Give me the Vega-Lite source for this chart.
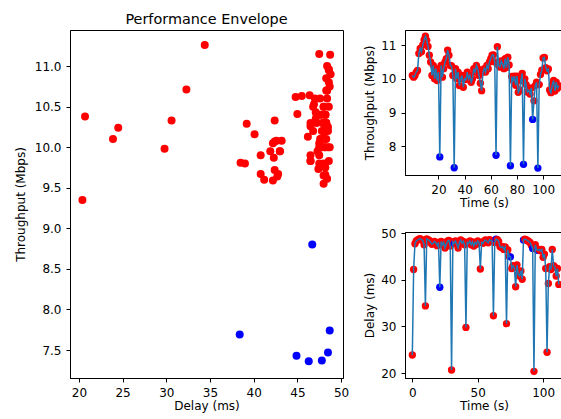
{
"$schema": "https://vega.github.io/schema/vega-lite/v6.json",
"padding": {"left": 13, "top": 11, "right": 0, "bottom": 5},
"data": {"values": [
{"t":0,"thr":10.10,"delay":23.9,"flag":"normal"},
{"t":1,"thr":10.05,"delay":42.2,"flag":"normal"},
{"t":2,"thr":10.10,"delay":47.7,"flag":"normal"},
{"t":3,"thr":10.20,"delay":48.3,"flag":"normal"},
{"t":4,"thr":10.25,"delay":48.5,"flag":"normal"},
{"t":5,"thr":10.75,"delay":48.7,"flag":"normal"},
{"t":6,"thr":10.90,"delay":48.8,"flag":"normal"},
{"t":7,"thr":10.80,"delay":48.6,"flag":"normal"},
{"t":8,"thr":11.00,"delay":48.4,"flag":"normal"},
{"t":9,"thr":11.15,"delay":47.5,"flag":"normal"},
{"t":10,"thr":11.26,"delay":34.4,"flag":"normal"},
{"t":11,"thr":11.14,"delay":48.75,"flag":"normal"},
{"t":12,"thr":10.96,"delay":48.6,"flag":"normal"},
{"t":13,"thr":10.70,"delay":48.4,"flag":"normal"},
{"t":14,"thr":10.50,"delay":48.0,"flag":"normal"},
{"t":15,"thr":10.10,"delay":47.6,"flag":"normal"},
{"t":16,"thr":10.40,"delay":47.8,"flag":"normal"},
{"t":17,"thr":10.00,"delay":48.2,"flag":"normal"},
{"t":18,"thr":10.30,"delay":47.9,"flag":"normal"},
{"t":19,"thr":9.95,"delay":47.3,"flag":"normal"},
{"t":20,"thr":10.20,"delay":48.0,"flag":"normal"},
{"t":21,"thr":7.69,"delay":38.4,"flag":"outlier"},
{"t":22,"thr":10.40,"delay":48.2,"flag":"normal"},
{"t":23,"thr":10.05,"delay":47.5,"flag":"normal"},
{"t":24,"thr":10.30,"delay":48.0,"flag":"normal"},
{"t":25,"thr":10.50,"delay":46.8,"flag":"normal"},
{"t":26,"thr":10.60,"delay":47.6,"flag":"normal"},
{"t":27,"thr":10.85,"delay":48.3,"flag":"normal"},
{"t":28,"thr":10.70,"delay":48.4,"flag":"normal"},
{"t":29,"thr":10.40,"delay":47.2,"flag":"normal"},
{"t":30,"thr":10.38,"delay":20.7,"flag":"normal"},
{"t":31,"thr":10.10,"delay":48.1,"flag":"normal"},
{"t":32,"thr":7.37,"delay":47.8,"flag":"outlier"},
{"t":33,"thr":10.30,"delay":48.3,"flag":"normal"},
{"t":34,"thr":10.00,"delay":47.6,"flag":"normal"},
{"t":35,"thr":10.20,"delay":46.8,"flag":"normal"},
{"t":36,"thr":9.80,"delay":48.0,"flag":"normal"},
{"t":37,"thr":10.00,"delay":48.5,"flag":"normal"},
{"t":38,"thr":10.10,"delay":47.8,"flag":"normal"},
{"t":39,"thr":9.75,"delay":48.2,"flag":"normal"},
{"t":40,"thr":10.00,"delay":47.5,"flag":"normal"},
{"t":41,"thr":9.98,"delay":29.8,"flag":"normal"},
{"t":42,"thr":10.20,"delay":48.0,"flag":"normal"},
{"t":43,"thr":10.00,"delay":47.8,"flag":"normal"},
{"t":44,"thr":10.10,"delay":48.3,"flag":"normal"},
{"t":45,"thr":9.90,"delay":47.5,"flag":"normal"},
{"t":46,"thr":10.00,"delay":48.1,"flag":"normal"},
{"t":47,"thr":10.30,"delay":47.2,"flag":"normal"},
{"t":48,"thr":10.20,"delay":48.0,"flag":"normal"},
{"t":49,"thr":10.40,"delay":47.6,"flag":"normal"},
{"t":50,"thr":10.30,"delay":48.3,"flag":"normal"},
{"t":51,"thr":10.10,"delay":48.0,"flag":"normal"},
{"t":52,"thr":9.87,"delay":42.3,"flag":"normal"},
{"t":53,"thr":9.65,"delay":48.0,"flag":"normal"},
{"t":54,"thr":10.20,"delay":47.8,"flag":"normal"},
{"t":55,"thr":10.30,"delay":48.3,"flag":"normal"},
{"t":56,"thr":10.20,"delay":48.5,"flag":"normal"},
{"t":57,"thr":10.40,"delay":48.2,"flag":"normal"},
{"t":58,"thr":10.30,"delay":47.9,"flag":"normal"},
{"t":59,"thr":10.50,"delay":48.6,"flag":"normal"},
{"t":60,"thr":10.60,"delay":48.4,"flag":"normal"},
{"t":61,"thr":10.70,"delay":48.3,"flag":"normal"},
{"t":62,"thr":10.71,"delay":32.3,"flag":"normal"},
{"t":63,"thr":10.50,"delay":48.0,"flag":"normal"},
{"t":64,"thr":7.74,"delay":48.7,"flag":"outlier"},
{"t":65,"thr":10.95,"delay":48.6,"flag":"normal"},
{"t":66,"thr":10.40,"delay":48.2,"flag":"normal"},
{"t":67,"thr":10.35,"delay":47.1,"flag":"normal"},
{"t":68,"thr":10.53,"delay":46.9,"flag":"normal"},
{"t":69,"thr":10.43,"delay":47.1,"flag":"normal"},
{"t":70,"thr":10.30,"delay":46.5,"flag":"normal"},
{"t":71,"thr":10.60,"delay":47.0,"flag":"normal"},
{"t":72,"thr":10.33,"delay":30.6,"flag":"normal"},
{"t":73,"thr":10.64,"delay":46.4,"flag":"normal"},
{"t":74,"thr":10.41,"delay":45.0,"flag":"normal"},
{"t":75,"thr":7.43,"delay":44.9,"flag":"outlier"},
{"t":76,"thr":10.07,"delay":42.4,"flag":"normal"},
{"t":77,"thr":9.95,"delay":43.0,"flag":"normal"},
{"t":78,"thr":10.08,"delay":42.6,"flag":"normal"},
{"t":79,"thr":9.81,"delay":38.5,"flag":"normal"},
{"t":80,"thr":10.08,"delay":43.2,"flag":"normal"},
{"t":81,"thr":9.60,"delay":41.2,"flag":"normal"},
{"t":82,"thr":9.67,"delay":40.8,"flag":"normal"},
{"t":83,"thr":9.95,"delay":41.9,"flag":"normal"},
{"t":84,"thr":10.16,"delay":40.1,"flag":"normal"},
{"t":85,"thr":7.47,"delay":48.5,"flag":"outlier"},
{"t":86,"thr":10.00,"delay":48.7,"flag":"normal"},
{"t":87,"thr":9.83,"delay":48.6,"flag":"normal"},
{"t":88,"thr":9.61,"delay":48.4,"flag":"normal"},
{"t":89,"thr":9.66,"delay":48.2,"flag":"normal"},
{"t":90,"thr":9.55,"delay":48.0,"flag":"normal"},
{"t":91,"thr":9.73,"delay":47.4,"flag":"normal"},
{"t":92,"thr":8.80,"delay":46.7,"flag":"outlier"},
{"t":93,"thr":9.35,"delay":20.4,"flag":"normal"},
{"t":94,"thr":9.80,"delay":47.5,"flag":"normal"},
{"t":95,"thr":9.90,"delay":46.5,"flag":"normal"},
{"t":96,"thr":7.36,"delay":46.3,"flag":"outlier"},
{"t":97,"thr":9.83,"delay":46.5,"flag":"normal"},
{"t":98,"thr":10.13,"delay":46.2,"flag":"normal"},
{"t":99,"thr":10.26,"delay":46.5,"flag":"normal"},
{"t":100,"thr":10.62,"delay":44.8,"flag":"normal"},
{"t":101,"thr":10.63,"delay":45.5,"flag":"normal"},
{"t":102,"thr":10.33,"delay":42.4,"flag":"normal"},
{"t":103,"thr":10.24,"delay":24.5,"flag":"normal"},
{"t":104,"thr":10.29,"delay":39.2,"flag":"normal"},
{"t":105,"thr":9.67,"delay":42.8,"flag":"normal"},
{"t":106,"thr":9.59,"delay":42.2,"flag":"normal"},
{"t":107,"thr":9.83,"delay":46.5,"flag":"normal"},
{"t":108,"thr":9.95,"delay":43.0,"flag":"normal"},
{"t":109,"thr":9.64,"delay":42.7,"flag":"normal"},
{"t":110,"thr":9.90,"delay":40.8,"flag":"normal"},
{"t":111,"thr":9.72,"delay":42.4,"flag":"normal"},
{"t":112,"thr":9.80,"delay":39.0,"flag":"normal"}
]},
"bounds": "flush",
"spacing": 62,
"hconcat": [
{
"title": "Performance Envelope",
"width": 273, "height": 348,
"mark": {"type": "point", "filled": true, "opacity": 1, "size": 64},
"encoding": {
"x": {"field": "delay", "type": "quantitative", "title": "Delay (ms)", "scale": {"domain": [18.98, 50.22], "nice": false, "zero": false}, "axis": {"values": [20,25,30,35,40,45,50]}},
"y": {"field": "thr", "type": "quantitative", "title": "Throughput (Mbps)", "scale": {"domain": [7.155, 11.445], "nice": false, "zero": false}, "axis": {"values": [7.5,8.0,8.5,9.0,9.5,10.0,10.5,11.0], "format": ".1f"}},
"color": {"field": "flag", "type": "nominal", "scale": {"domain": ["normal","outlier"], "range": ["#ff0000","#0000ff"]}, "legend": null}
}
},
{
"bounds": "flush",
"spacing": 57,
"vconcat": [
{
"width": 158, "height": 145,
"encoding": {
"x": {"field": "t", "type": "quantitative", "title": "Time (s)", "scale": {"domain": [-5.6, 115.2], "nice": false, "zero": false}, "axis": {"values": [20,40,60,80,100]}},
"y": {"field": "thr", "type": "quantitative", "title": "Throughput (Mbps)", "scale": {"domain": [7.155, 11.445], "nice": false, "zero": false}, "axis": {"values": [8,9,10,11], "format": "d", "titlePadding": 4}}
},
"layer": [
{"mark": {"type": "point", "filled": true, "opacity": 1, "size": 54},
 "encoding": {"color": {"field": "flag", "type": "nominal", "scale": {"domain": ["normal","outlier"], "range": ["#ff0000","#0000ff"]}, "legend": null}}},
{"mark": {"type": "line", "color": "#1f77b4", "strokeWidth": 1.5}, "encoding": {}}
]
},
{
"width": 158, "height": 146,
"encoding": {
"x": {"field": "t", "type": "quantitative", "title": "Time (s)", "scale": {"domain": [-5.6, 115.2], "nice": false, "zero": false}, "axis": {"values": [0,50,100]}},
"y": {"field": "delay", "type": "quantitative", "title": "Delay (ms)", "scale": {"domain": [18.98, 50.22], "nice": false, "zero": false}, "axis": {"values": [20,30,40,50], "format": "d", "titlePadding": 4}}
},
"layer": [
{"mark": {"type": "point", "filled": true, "opacity": 1, "size": 54},
 "encoding": {"color": {"field": "flag", "type": "nominal", "scale": {"domain": ["normal","outlier"], "range": ["#ff0000","#0000ff"]}, "legend": null}}},
{"mark": {"type": "line", "color": "#1f77b4", "strokeWidth": 1.5}, "encoding": {}}
]
}
]
}
],
"config": {
"font": "DejaVu Sans",
"view": {"stroke": "black", "strokeWidth": 1},
"axis": {"domainColor": "black", "tickColor": "black", "labelColor": "black", "titleColor": "black", "labelFontSize": 12, "titleFontSize": 12, "titleFontWeight": "normal", "tickSize": 4, "labelPadding": 5, "grid": false, "domainWidth": 1, "tickWidth": 1, "labelFont": "DejaVu Sans", "titleFont": "DejaVu Sans", "labelFlush": false, "labelOverlap": false, "labelBound": false},
"axisX": {"titlePadding": 2},
"axisY": {"titlePadding": 7},
"title": {"fontSize": 14.4, "fontWeight": "normal", "font": "DejaVu Sans", "color": "black", "offset": 3}
}
}
